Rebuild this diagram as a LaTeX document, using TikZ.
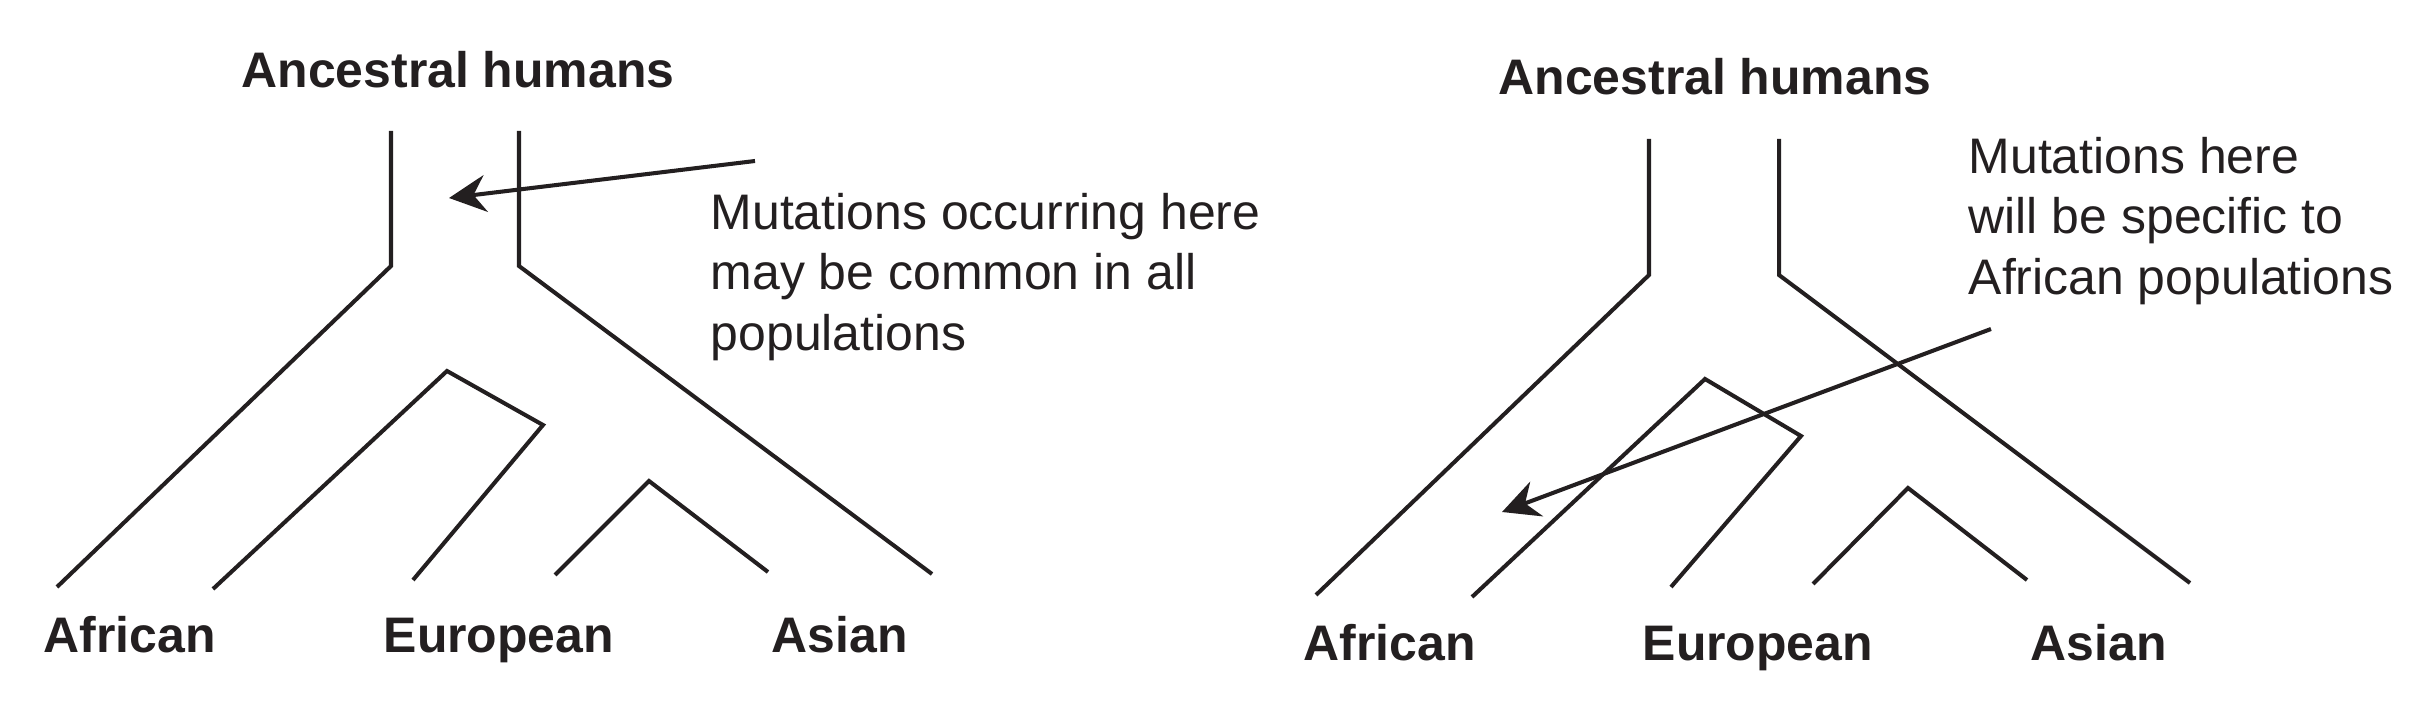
\documentclass[tikz,border=0pt]{standalone}
\usepackage{fontspec}
\setmainfont{Liberation Sans}
\usetikzlibrary{arrows.meta}
\definecolor{ink}{HTML}{231F20}
\begin{document}
\begin{tikzpicture}[x=0.01cm,y=-0.01cm,
  branch/.style={draw=ink, line width=1.15pt, line join=miter},
  pointer/.style={draw=ink, line width=1.15pt, -{Stealth[length=10.5pt,width=10.5pt,inset=3.5pt]}},
  title/.style={font=\fontsize{14.2}{17.1}\selectfont\bfseries, text=ink, inner sep=0pt},
  note/.style={font=\fontsize{14.2}{17.1}\selectfont, text=ink, inner sep=0pt, align=left},
]
\useasboundingbox (0,0) rectangle (2424,728);

% ---------- left tree ----------
\node[title, anchor=base] (tL) at (458,88) {Ancestral humans};
\coordinate (La1) at (391,131); \coordinate (La2) at (391,266); \coordinate (La3) at (57,587);
\coordinate (Lb1) at (519,131); \coordinate (Lb2) at (519,266); \coordinate (Lb3) at (932,574);
\coordinate (Lc1) at (213,589); \coordinate (Lc2) at (447,371); \coordinate (Lc3) at (543,425); \coordinate (Lc4) at (413,580);
\coordinate (Ld1) at (555,575); \coordinate (Ld2) at (649,481); \coordinate (Ld3) at (768,572);
\draw[branch] (La1) -- (La2) -- (La3);
\draw[branch] (Lb1) -- (Lb2) -- (Lb3);
\draw[branch] (Lc1) -- (Lc2) -- (Lc3) -- (Lc4);
\draw[branch] (Ld1) -- (Ld2) -- (Ld3);
\node[note, anchor=west] (nL) at (710,277) {Mutations occurring here\\may be common in all\\populations};
\coordinate (LaS) at (755,161); \coordinate (LaT) at (449,198);
\draw[pointer] (LaS) -- (LaT);
\node[title, anchor=base west] (afL) at (43,653) {African};
\node[title, anchor=base west] (euL) at (383,653) {European};
\node[title, anchor=base west] (asL) at (771,653) {Asian};

% ---------- right tree ----------
\node[title, anchor=base] (tR) at (1715,95) {Ancestral humans};
\coordinate (Ra1) at (1649,139); \coordinate (Ra2) at (1649,275); \coordinate (Ra3) at (1316,595);
\coordinate (Rb1) at (1779,139); \coordinate (Rb2) at (1779,275); \coordinate (Rb3) at (2190,583);
\coordinate (Rc1) at (1472,597); \coordinate (Rc2) at (1705,379); \coordinate (Rc3) at (1801,436); \coordinate (Rc4) at (1671,587);
\coordinate (Rd1) at (1813,584); \coordinate (Rd2) at (1908,488); \coordinate (Rd3) at (2027,580);
\draw[branch] (Ra1) -- (Ra2) -- (Ra3);
\draw[branch] (Rb1) -- (Rb2) -- (Rb3);
\draw[branch] (Rc1) -- (Rc2) -- (Rc3) -- (Rc4);
\draw[branch] (Rd1) -- (Rd2) -- (Rd3);
\node[note, anchor=west] (nR) at (1968,221) {Mutations here\\will be specific to\\African populations};
\coordinate (RaS) at (1991,329); \coordinate (RaT) at (1502,512);
\draw[pointer] (RaS) -- (RaT);
\node[title, anchor=base west] (afR) at (1303,661) {African};
\node[title, anchor=base west] (euR) at (1642,661) {European};
\node[title, anchor=base west] (asR) at (2030,661) {Asian};
\end{tikzpicture}
\end{document}
